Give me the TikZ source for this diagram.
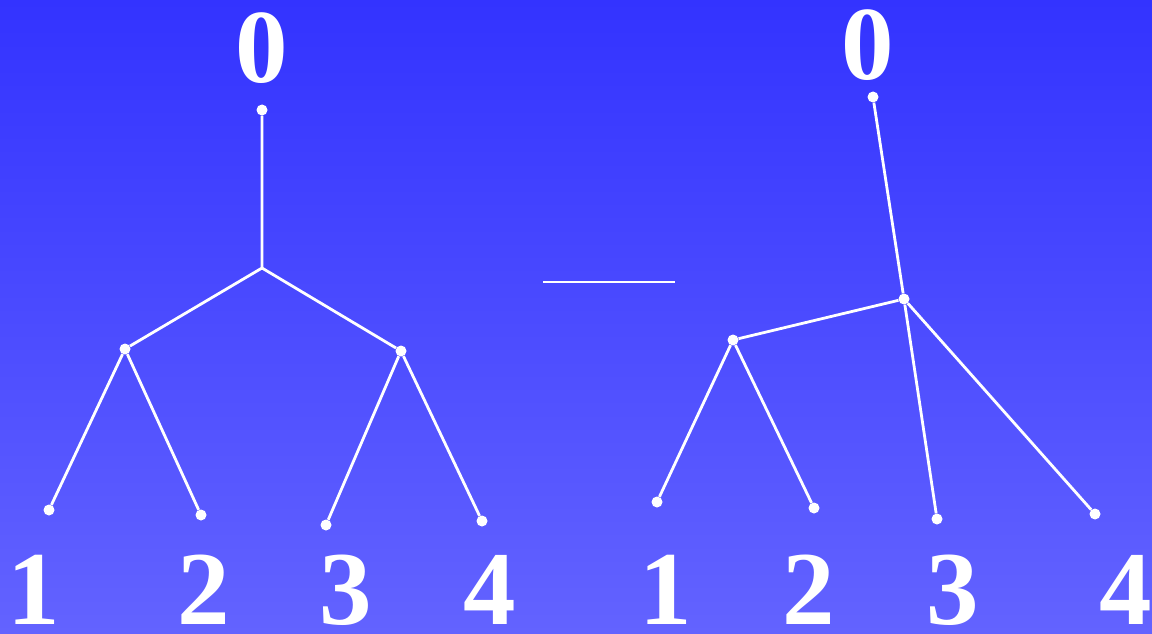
\documentclass[tikz,border=0pt]{standalone}
\usepackage{fontspec}
\setmainfont{Liberation Serif}
\definecolor{bgtop}{RGB}{51,51,255}
\definecolor{bgbot}{RGB}{99,99,255}
\begin{document}
\begin{tikzpicture}[x=1pt,y=-1pt,
  edge/.style={draw=white,line width=2.8pt},
  dot/.style={circle,fill=white,inner sep=0pt,minimum size=11pt},
  lbl/.style={text=white,font=\fontsize{105}{105}\selectfont\bfseries,anchor=base,inner sep=0pt,text depth=0pt}]
\shade[top color=bgtop,bottom color=bgbot] (0,0) rectangle (1152,634);
\useasboundingbox (0,0) rectangle (1152,634);
% left tree
\node[lbl] (L0) at (262,83) {0};
\node[dot] (Lr) at (262,110) {};
\coordinate (Lj) at (262,268);
\node[dot] (La) at (125,349) {};
\node[dot] (Lb) at (401,351) {};
\node[dot] (L1) at (49,510) {};
\node[dot] (L2) at (201,515) {};
\node[dot] (L3) at (326,525) {};
\node[dot] (L4) at (482,521) {};
\draw[edge] (Lr) -- (Lj) -- (La);
\draw[edge] (Lj) -- (Lb);
\draw[edge] (La) -- (L1);
\draw[edge] (La) -- (L2);
\draw[edge] (Lb) -- (L3);
\draw[edge] (Lb) -- (L4);
\node[lbl] (Lt1) at (34,624) {1};
\node[lbl] (Lt2) at (204,624) {2};
\node[lbl] (Lt3) at (346,624) {3};
\node[lbl] (Lt4) at (490,624) {4};
% middle line
\coordinate (Ma) at (543,282);
\coordinate (Mb) at (675,282);
\draw[white,line width=1.3pt] (Ma) -- (Mb);
% right tree
\node[lbl] (R0) at (868,80) {0};
\node[dot] (Rr) at (873,97) {};
\node[dot] (Rj) at (904,299) {};
\node[dot] (Ra) at (733,340) {};
\node[dot] (R1) at (657,502) {};
\node[dot] (R2) at (814,508) {};
\node[dot] (R3) at (937,519) {};
\node[dot] (R4) at (1095,514) {};
\draw[edge] (Rr) -- (Rj);
\draw[edge] (Rj) -- (Ra);
\draw[edge] (Ra) -- (R1);
\draw[edge] (Ra) -- (R2);
\draw[edge] (Rj) -- (R3);
\draw[edge] (Rj) -- (R4);
\node[lbl] (Rt1) at (666,624) {1};
\node[lbl] (Rt2) at (809,624) {2};
\node[lbl] (Rt3) at (953,624) {3};
\node[lbl] (Rt4) at (1126,624) {4};
\end{tikzpicture}
\end{document}
